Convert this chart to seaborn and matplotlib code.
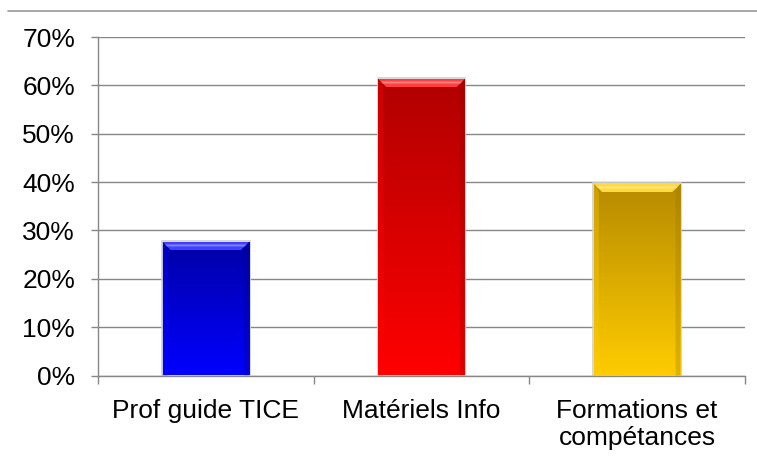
import matplotlib
matplotlib.use("Agg")
import matplotlib.pyplot as plt
import matplotlib.colors as mcolors
from matplotlib.patches import Polygon
from matplotlib.lines import Line2D
import numpy as np
import pandas as pd
import seaborn as sns

categories = ["Prof guide TICE", "Matériels Info", "Formations et\ncompétances"]
values = [27.6, 61.3, 39.6]
top_colors = ["#0000a6", "#b00000", "#b58a00"]
bottom_colors = ["#0000ff", "#ff0000", "#ffcc00"]
y_ticks = [0, 10, 20, 30, 40, 50, 60, 70]

sns.set_theme(style="white")
plt.rcParams["font.family"] = ["Liberation Sans", "DejaVu Sans"]

df = pd.DataFrame({"cat": categories, "val": values})

fig = plt.figure(figsize=(7.57, 4.61), dpi=100)
ax = fig.add_axes([98 / 757, 1 - 375.5 / 461, (745 - 98) / 757, (375.5 - 37) / 461])

sns.barplot(data=df, x="cat", y="val", hue="cat", palette=bottom_colors,
            width=0.4, legend=False, ax=ax, zorder=2, saturation=1)

ax.set_xlim(-0.5, 2.5)
ax.set_ylim(0, 70)
ax.set_yticks(y_ticks)
ax.set_yticklabels([f"{t}%" for t in y_ticks])
ax.set_xlabel("")
ax.set_ylabel("")

grid_c = "#878787"
ax.yaxis.grid(True, color=grid_c, linewidth=1.0, zorder=0)
ax.set_axisbelow(True)
for side in ["top", "right"]:
    ax.spines[side].set_visible(False)
for side in ["left", "bottom"]:
    ax.spines[side].set_color(grid_c)
    ax.spines[side].set_linewidth(1.0)

ax.tick_params(axis="y", which="major", left=True, length=5, width=1, color=grid_c,
               labelsize=19, pad=11.5, labelcolor="black")
ax.set_xticks([0, 1, 2])
ax.set_xticklabels(categories, fontsize=19, color="black", linespacing=1.15)
ax.tick_params(axis="x", which="major", bottom=False, length=0, pad=17)
ax.set_xticks([-0.5, 0.5, 1.5, 2.5], minor=True)
ax.tick_params(axis="x", which="minor", bottom=True, length=5.5, width=1, color=grid_c)

# gradient fill and bevelled top for each bar
px_per_unit_y = (375.5 - 37) / 70.0
px_per_unit_x = (745 - 98) / 3.0
bevel_h = 8 / px_per_unit_y
bevel_w = 8 / px_per_unit_x
for patch, c_top, c_bot in zip(ax.patches, top_colors, bottom_colors):
    x, y = patch.get_x(), patch.get_y()
    w, h = patch.get_width(), patch.get_height()
    cmap = mcolors.LinearSegmentedColormap.from_list("g", [c_bot, c_top])
    grad = np.linspace(0, 1, 256).reshape(-1, 1)
    im = ax.imshow(grad, cmap=cmap, aspect="auto", origin="lower",
                   extent=[x, x + w, y, y + h], zorder=3)
    im.set_clip_path(patch)
    patch.set_facecolor("none")
    patch.set_edgecolor("none")
    top = y + h
    base = mcolors.to_rgb(c_top)
    light = tuple(min(1, v * 0.5 + 0.5) for v in mcolors.to_rgb(c_bot))
    mid = tuple(min(1, v * 0.75 + 0.25) for v in mcolors.to_rgb(c_bot))
    # top bevel
    ax.add_patch(Polygon([[x, top], [x + w, top], [x + w - bevel_w, top - bevel_h],
                          [x + bevel_w, top - bevel_h]], closed=True,
                         facecolor=mid, edgecolor="none", zorder=4))
    ax.add_patch(Polygon([[x + bevel_w * 0.3, top - bevel_h * 0.3],
                          [x + w - bevel_w * 0.3, top - bevel_h * 0.3],
                          [x + w - bevel_w * 0.55, top - bevel_h * 0.55],
                          [x + bevel_w * 0.55, top - bevel_h * 0.55]], closed=True,
                         facecolor=light, edgecolor="none", zorder=5))
    # side bevels
    dark = tuple(v * 0.85 for v in base)
    ax.add_patch(Polygon([[x, top], [x + bevel_w * 0.6, top - bevel_h],
                          [x + bevel_w * 0.6, y], [x, y]], closed=True,
                         facecolor=c_bot, edgecolor="none", alpha=0.35, zorder=4))
    ax.add_patch(Polygon([[x + w, top], [x + w - bevel_w * 0.6, top - bevel_h],
                          [x + w - bevel_w * 0.6, y], [x + w, y]], closed=True,
                         facecolor=dark, edgecolor="none", alpha=0.3, zorder=4))
    # soft shadow outline
    ax.add_patch(plt.Rectangle((x - 0.004, y), w + 0.008, h + 0.15, facecolor="none",
                               edgecolor="#d0d0d0", linewidth=1.2, zorder=2.5))

fig.add_artist(Line2D([8 / 757, 1.0], [1 - 11 / 461, 1 - 11 / 461],
                      color="#9a9a9a", linewidth=1.2, transform=fig.transFigure))

fig.savefig("out.png", dpi=100, facecolor="white")
